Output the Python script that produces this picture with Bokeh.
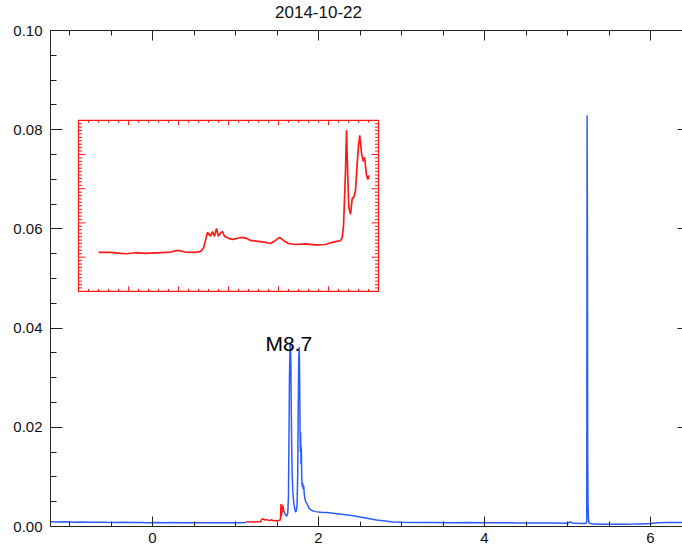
import numpy as np
from bokeh.plotting import figure
from bokeh.models import (Range1d, LinearAxis, FixedTicker, PrintfTickFormatter,
                          Label, CustomJSTickFormatter)
from bokeh.embed import file_html
from bokeh.resources import INLINE

TITLE = "2014-10-22"
FLARE_LABEL = "M8.7"

# ---- main light curve: time (hours) and flux ----
pre_t = [-1.23, -1.15, -1.05, -0.95, -0.85, -0.75, -0.65, -0.55, -0.45, -0.35,
         -0.25, -0.15, -0.05, 0.05, 0.15, 0.25, 0.35, 0.45, 0.55, 0.65,
         0.75, 0.85, 0.95, 1.05, 1.12]
pre_f = [0.00095, 0.00092, 0.00094, 0.00088, 0.00090, 0.00086, 0.00088, 0.00085, 0.00083, 0.00085,
         0.00080, 0.00082, 0.00078, 0.00080, 0.00077, 0.00079, 0.00076, 0.00078, 0.00075, 0.00077,
         0.00074, 0.00076, 0.00075, 0.00077, 0.00080]

# pre-flare interval (red), also shown magnified in the inset
red_t = [1.1333, 1.1533, 1.17, 1.18, 1.195, 1.2117, 1.2367, 1.2533, 1.265, 1.2783,
         1.295, 1.3033, 1.3083, 1.3117, 1.315, 1.32, 1.3233, 1.3267, 1.33, 1.3333,
         1.3367, 1.34, 1.3433, 1.35, 1.3567, 1.3667, 1.3733, 1.38, 1.3867, 1.4,
         1.4117, 1.42, 1.4283, 1.435, 1.4417, 1.45, 1.4617, 1.4783, 1.495, 1.5117,
         1.52, 1.53, 1.5367, 1.5395, 1.5417, 1.5433, 1.545, 1.5467, 1.5488, 1.5505,
         1.5533, 1.5562, 1.5588, 1.5617, 1.5645, 1.5667, 1.5688, 1.5717, 1.5745, 1.5767,
         1.58, 1.5822, 1.5838]
red_f = [0.00094, 0.00094, 0.00091, 0.00090, 0.00093, 0.00091, 0.00093, 0.00095, 0.00100, 0.00095,
         0.00094, 0.00097, 0.00106, 0.00129, 0.00153, 0.00141, 0.00155, 0.00141, 0.00164, 0.00141,
         0.00150, 0.00155, 0.00141, 0.00135, 0.00132, 0.00136, 0.00138, 0.00135, 0.00129, 0.00126,
         0.00123, 0.00120, 0.00129, 0.00138, 0.00129, 0.00120, 0.00117, 0.00119, 0.00116, 0.00117,
         0.00122, 0.00126, 0.00128, 0.00138, 0.00173, 0.00246, 0.00334, 0.00451, 0.00313, 0.00226,
         0.00205, 0.00252, 0.00255, 0.00275, 0.00354, 0.00407, 0.00436, 0.00384, 0.00360, 0.00372,
         0.00319, 0.00307, 0.00319]

post_t = [1.595, 1.607, 1.620, 1.630, 1.638, 1.644, 1.650, 1.656, 1.662, 1.667,
          1.672, 1.678, 1.684, 1.690, 1.697, 1.705, 1.714, 1.723, 1.732, 1.742,
          1.750, 1.756, 1.762, 1.768, 1.773, 1.777, 1.781, 1.785, 1.789, 1.793,
          1.798, 1.804, 1.810, 1.815, 1.822, 1.830, 1.845, 1.865, 1.885, 1.905,
          1.935, 1.965, 2.00, 2.05, 2.10, 2.15, 2.20, 2.25, 2.30, 2.40,
          2.50, 2.60, 2.70, 2.80, 2.90, 3.00, 3.20, 3.40, 3.60, 3.80,
          4.00, 4.20, 4.40, 4.60, 4.80, 5.00, 5.03, 5.06, 5.15, 5.22,
          5.232, 5.236, 5.240, 5.243, 5.247, 5.252, 5.26, 5.30, 5.40, 5.50,
          5.60, 5.70, 5.80, 5.90, 6.00, 6.10, 6.20, 6.29, 6.39]
post_f = [0.0026, 0.0022, 0.0021, 0.0028, 0.0060, 0.0180, 0.0300, 0.0360, 0.0372, 0.0330,
          0.0230, 0.0150, 0.0100, 0.0072, 0.0056, 0.0045, 0.0035, 0.0029, 0.0031, 0.0045,
          0.0110, 0.0250, 0.0340, 0.0362, 0.0300, 0.0200, 0.0150, 0.0190, 0.0125, 0.0160,
          0.0100, 0.0080, 0.0088, 0.0075, 0.0082, 0.0062, 0.0050, 0.0045, 0.0037, 0.0034,
          0.0031, 0.0030, 0.0029, 0.0028, 0.0028, 0.0027, 0.0026, 0.0025, 0.0024, 0.0022,
          0.0019, 0.0016, 0.0013, 0.0011, 0.0009, 0.00085, 0.0008, 0.00082, 0.00078, 0.0008,
          0.00076, 0.00075, 0.00072, 0.0007, 0.0007, 0.00065, 0.0009, 0.0007, 0.0006, 0.00062,
          0.0010, 0.0829, 0.0603, 0.0147, 0.0052, 0.0015, 0.0007, 0.00048, 0.00045, 0.00046,
          0.00045, 0.00047, 0.00048, 0.0005, 0.0006, 0.00075, 0.00082, 0.0008, 0.0008]

x_major = [0, 2, 4, 6]
x_minor = [-1.0, -0.5, 0.0, 0.5, 1.0, 1.5, 2.0, 2.5, 3.0, 3.5, 4.0, 4.5, 5.0, 5.5, 6.0]
y_major = [0.00, 0.02, 0.04, 0.06, 0.08, 0.10]
y_minor = [round(0.005 * i, 3) for i in range(21)]

# ---- layout / styling constants ----
W, H = 682, 548
BORDER_L, BORDER_T, BORDER_B = 50, 30, 22
FRAME_W = W - BORDER_L
FRAME_H = H - BORDER_T - BORDER_B
X_START, X_END = -1.229, -1.229 + FRAME_W / 83.0
Y_START, Y_END = 0.0, 0.10

INSET_X = (1.1, 1.6)            # inset's own data range
INSET_Y = (-0.0002, 0.0048)
INSET_BOX = (-0.892, 2.723, 0.0474, 0.0819)  # inset placement in main data coords

BLUE = "#2b5cff"
RED = "#ff1a1a"
AX = "#222222"
FONT = "Liberation Sans"

p = figure(width=W, height=H, output_backend="svg", toolbar_location=None,
           x_range=Range1d(X_START, X_END), y_range=Range1d(Y_START, Y_END),
           min_border_left=BORDER_L, min_border_right=0,
           min_border_top=BORDER_T, min_border_bottom=BORDER_B,
           background_fill_color="white", border_fill_color="white")
p.outline_line_color = None
p.grid.visible = False

# bottom axis
xa = p.xaxis[0]
xa.ticker = FixedTicker(ticks=x_major, minor_ticks=x_minor)
xa.formatter = PrintfTickFormatter(format="%d")
# left axis
ya = p.yaxis[0]
ya.ticker = FixedTicker(ticks=y_major, minor_ticks=y_minor)
ya.formatter = PrintfTickFormatter(format="%.2f")
for ax, tin, mtin in ((xa, 10, 5), (ya, 12, 6)):
    ax.major_tick_in = tin
    ax.major_tick_out = 0
    ax.minor_tick_in = mtin
    ax.minor_tick_out = 0
    ax.axis_line_color = AX
    ax.major_tick_line_color = AX
    ax.minor_tick_line_color = AX
    ax.major_label_text_font = FONT
    ax.major_label_text_font_size = "15px"
    ax.major_label_text_color = "#111111"
xa.major_label_standoff = 6
ya.major_label_standoff = 8

blank = CustomJSTickFormatter(code="return ''")
top = LinearAxis(ticker=FixedTicker(ticks=x_major, minor_ticks=x_minor), formatter=blank,
                 major_tick_in=10, major_tick_out=0, minor_tick_in=5, minor_tick_out=0,
                 major_label_standoff=0, major_label_text_font_size="0px",
                 axis_line_color=AX, major_tick_line_color=AX, minor_tick_line_color=AX)
p.add_layout(top, "above")
right = LinearAxis(ticker=FixedTicker(ticks=y_major, minor_ticks=[]), formatter=blank,
                   major_tick_in=5, major_tick_out=0, minor_tick_in=0, minor_tick_out=0,
                   major_label_standoff=0, major_label_text_font_size="0px",
                   axis_line_color=None, major_tick_line_color=AX)
p.add_layout(right, "right")

# ---- title, placed in the panel above the frame ----
p.add_layout(Label(x=268, y=19, x_units="screen", y_units="screen", text=TITLE,
                   text_font=FONT, text_font_size="17px", text_color="#111111",
                   text_align="center", text_baseline="middle"), "above")

# ---- main curve ----
p.line(pre_t + [red_t[0]], pre_f + [red_f[0]], line_color=BLUE, line_width=1.5)
p.line([red_t[-1]] + post_t, [red_f[-1]] + post_f, line_color=BLUE, line_width=1.5)
p.line(red_t, red_f, line_color=RED, line_width=1.5)

# ---- inset (own coordinate ranges mapped onto its box) ----
bx0, bx1, by0, by1 = INSET_BOX
sx = (INSET_X[1] - INSET_X[0]) / (bx1 - bx0)
sy = (INSET_Y[1] - INSET_Y[0]) / (by1 - by0)
p.extra_x_ranges = {"ix": Range1d(INSET_X[0] + (X_START - bx0) * sx, INSET_X[0] + (X_END - bx0) * sx)}
p.extra_y_ranges = {"iy": Range1d(INSET_Y[0] + (Y_START - by0) * sy, INSET_Y[0] + (Y_END - by0) * sy)}

px_ix = (FRAME_W / (X_END - X_START)) / sx     # pixels per inset x unit
px_iy = (FRAME_H / (Y_END - Y_START)) / sy     # pixels per inset y unit

ix0, ix1 = INSET_X
iy0, iy1 = INSET_Y
p.quad(left=[ix0], right=[ix1], bottom=[iy0], top=[iy1], fill_color=None,
       line_color=RED, line_width=1.2, x_range_name="ix", y_range_name="iy")

xt_major = [ix0 + k * (ix1 - ix0) / 6 for k in range(1, 6)]
xt_minor = [ix0 + k * (ix1 - ix0) / 30 for k in range(1, 30) if k % 5]
yt_major = [iy0 + k * (iy1 - iy0) / 5 for k in range(1, 5)]
yt_minor = [iy0 + k * (iy1 - iy0) / 50 for k in range(1, 50) if k % 10]

sx0, sx1, sy0, sy1 = [], [], [], []
for ticks, ln in ((xt_major, 5.0), (xt_minor, 2.5)):
    d = ln / px_iy
    for t in ticks:
        sx0 += [t, t]; sx1 += [t, t]
        sy0 += [iy0, iy1]; sy1 += [iy0 + d, iy1 - d]
for ticks, ln in ((yt_major, 7.0), (yt_minor, 3.5)):
    d = ln / px_ix
    for t in ticks:
        sy0 += [t, t]; sy1 += [t, t]
        sx0 += [ix0, ix1]; sx1 += [ix0 + d, ix1 - d]
p.segment(x0=sx0, y0=sy0, x1=sx1, y1=sy1, line_color=RED, line_width=1,
          x_range_name="ix", y_range_name="iy")

p.line(red_t, red_f, line_color=RED, line_width=1.7, x_range_name="ix", y_range_name="iy")

# ---- flare label ----
p.add_layout(Label(x=1.36, y=0.0369, text=FLARE_LABEL, text_font=FONT, text_font_size="21px",
                   text_color="black", text_align="left", text_baseline="middle"))

open("out.html", "w").write(file_html(p, INLINE))
